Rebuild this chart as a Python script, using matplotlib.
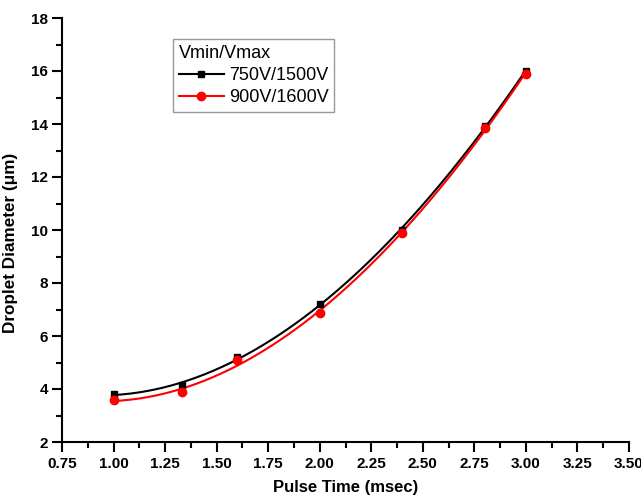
import numpy as np
import matplotlib
matplotlib.use("Agg")
import matplotlib.pyplot as plt
from matplotlib.ticker import MultipleLocator, FormatStrFormatter

pulse_time = [1.0, 1.333, 1.6, 2.0, 2.4, 2.8, 3.0]
diam_750_1500 = [3.8, 4.15, 5.2, 7.2, 10.0, 13.92, 16.0]
diam_900_1600 = [3.57, 3.88, 5.08, 6.87, 9.88, 13.85, 15.89]
series_labels = ["750V/1500V", "900V/1600V"]
legend_title = "Vmin/Vmax"

plt.rcParams['font.family'] = ['Liberation Sans', 'DejaVu Sans']

fig = plt.figure(figsize=(6.41, 4.96), dpi=100)
ax = fig.add_axes([62/641, 54/496, 567/641, 424/496])

xs = np.linspace(min(pulse_time), max(pulse_time), 200)
for y, col, mk, ms, lab in [(diam_750_1500, 'black', 's', 5, series_labels[0]),
                            (diam_900_1600, 'red', 'o', 6, series_labels[1])]:
    coef = np.polyfit(pulse_time, y, 3)
    ax.plot(xs, np.polyval(coef, xs), color=col, lw=1.5, zorder=2)
    ax.plot(pulse_time, y, linestyle='none', marker=mk, color=col, ms=ms, zorder=3)
    ax.plot([], [], color=col, lw=1.5, marker=mk, ms=ms, label=lab)

ax.set_xlim(0.75, 3.5)
ax.set_ylim(2, 18)
ax.xaxis.set_major_locator(MultipleLocator(0.25))
ax.xaxis.set_minor_locator(MultipleLocator(0.125))
ax.xaxis.set_major_formatter(FormatStrFormatter('%.2f'))
ax.yaxis.set_major_locator(MultipleLocator(2))
ax.yaxis.set_minor_locator(MultipleLocator(1))

for s in ['top', 'right']:
    ax.spines[s].set_visible(False)
for s in ['left', 'bottom']:
    ax.spines[s].set_linewidth(1.5)
ax.tick_params(which='major', direction='out', length=7, width=1.5, labelsize=11, pad=4)
ax.tick_params(axis='y', which='major', pad=3)
ax.tick_params(which='minor', direction='out', length=4, width=1.5)
for lab in ax.get_xticklabels() + ax.get_yticklabels():
    lab.set_fontweight('bold')

ax.set_xlabel('Pulse Time (msec)', fontsize=12, fontweight='bold', labelpad=6.5)
ax.set_ylabel('Droplet Diameter (μm)', fontsize=12.3, fontweight='bold')
ax.yaxis.set_label_coords(-0.078, 0.469)

leg = ax.legend(title=legend_title, loc='upper left', bbox_to_anchor=(0.196, 0.95),
                borderaxespad=0, fontsize=13, title_fontsize=13, fancybox=False,
                frameon=True, handlelength=2.5, handletextpad=0.3, labelspacing=0.3,
                borderpad=0.3, alignment='left')
leg.get_frame().set_edgecolor('#808080')
leg.get_frame().set_linewidth(1.0)

fig.savefig('out.png', dpi=100)
